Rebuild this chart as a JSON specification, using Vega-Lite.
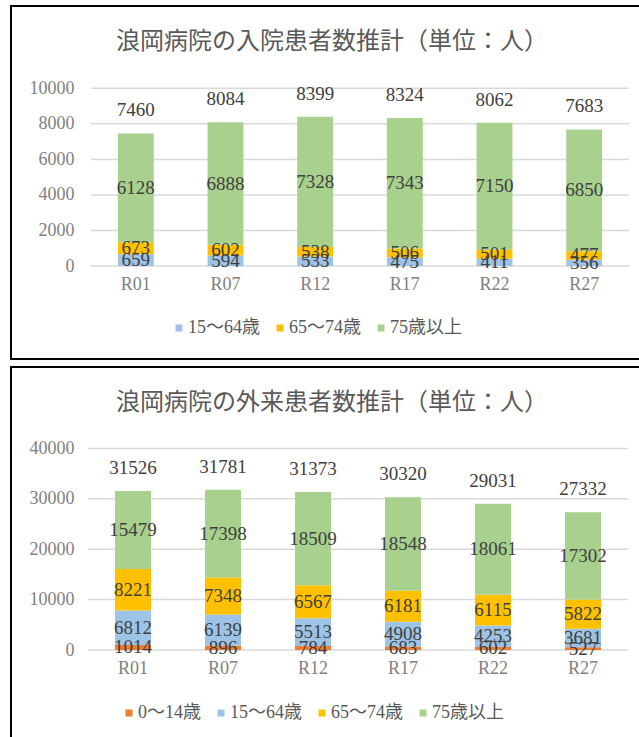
{
  "$schema": "https://vega.github.io/schema/vega-lite/v6.json",
  "padding": {"left": 10, "top": 5, "right": 0, "bottom": 0},
  "autosize": {"type": "pad"},
  "background": "#ffffff",
  "spacing": 6,
  "config": {
    "font": "'Liberation Serif', 'Noto Sans CJK JP'",
    "text": {"font": "'Liberation Serif', 'Noto Sans CJK JP'"},
    "view": {"stroke": "#000000", "strokeWidth": 2},
    "title": {"fontSize": 24, "fontWeight": "normal", "color": "#595959", "offset": -48, "baseline": "middle", "anchor": "middle", "frame": "group", "font": "'Liberation Serif', 'Noto Sans CJK JP'"},
    "axisX": {"offset": -93, "domain": false, "ticks": false, "grid": false, "labelFont": "'Liberation Serif', 'Noto Sans CJK JP'", "labelFontSize": 18, "labelColor": "#7f7f7f", "labelPadding": 18, "labelBaseline": "middle", "labelAngle": 0, "title": null},
    "axisY": {"offset": -65, "domain": false, "ticks": false, "grid": false, "labelFont": "'Liberation Serif', 'Noto Sans CJK JP'", "labelFontSize": 18, "labelColor": "#7f7f7f", "labelPadding": 2, "title": null, "format": "d"},
    "legend": {"orient": "none", "direction": "horizontal", "symbolType": "square", "symbolSize": 49, "labelFont": "'Liberation Serif', 'Noto Sans CJK JP'", "labelFontSize": 18, "labelColor": "#595959", "columnPadding": 11, "labelOffset": 0, "padding": 0, "title": null}
  },
  "datasets": {
    "inpatient": [
      {"period": "R01", "age": "15～64歳", "value": 659},
      {"period": "R01", "age": "65～74歳", "value": 673},
      {"period": "R01", "age": "75歳以上", "value": 6128},
      {"period": "R07", "age": "15～64歳", "value": 594},
      {"period": "R07", "age": "65～74歳", "value": 602},
      {"period": "R07", "age": "75歳以上", "value": 6888},
      {"period": "R12", "age": "15～64歳", "value": 533},
      {"period": "R12", "age": "65～74歳", "value": 538},
      {"period": "R12", "age": "75歳以上", "value": 7328},
      {"period": "R17", "age": "15～64歳", "value": 475},
      {"period": "R17", "age": "65～74歳", "value": 506},
      {"period": "R17", "age": "75歳以上", "value": 7343},
      {"period": "R22", "age": "15～64歳", "value": 411},
      {"period": "R22", "age": "65～74歳", "value": 501},
      {"period": "R22", "age": "75歳以上", "value": 7150},
      {"period": "R27", "age": "15～64歳", "value": 356},
      {"period": "R27", "age": "65～74歳", "value": 477},
      {"period": "R27", "age": "75歳以上", "value": 6850}
    ],
    "outpatient": [
      {"period": "R01", "age": "0～14歳", "value": 1014},
      {"period": "R01", "age": "15～64歳", "value": 6812},
      {"period": "R01", "age": "65～74歳", "value": 8221},
      {"period": "R01", "age": "75歳以上", "value": 15479},
      {"period": "R07", "age": "0～14歳", "value": 896},
      {"period": "R07", "age": "15～64歳", "value": 6139},
      {"period": "R07", "age": "65～74歳", "value": 7348},
      {"period": "R07", "age": "75歳以上", "value": 17398},
      {"period": "R12", "age": "0～14歳", "value": 784},
      {"period": "R12", "age": "15～64歳", "value": 5513},
      {"period": "R12", "age": "65～74歳", "value": 6567},
      {"period": "R12", "age": "75歳以上", "value": 18509},
      {"period": "R17", "age": "0～14歳", "value": 683},
      {"period": "R17", "age": "15～64歳", "value": 4908},
      {"period": "R17", "age": "65～74歳", "value": 6181},
      {"period": "R17", "age": "75歳以上", "value": 18548},
      {"period": "R22", "age": "0～14歳", "value": 602},
      {"period": "R22", "age": "15～64歳", "value": 4253},
      {"period": "R22", "age": "65～74歳", "value": 6115},
      {"period": "R22", "age": "75歳以上", "value": 18061},
      {"period": "R27", "age": "0～14歳", "value": 527},
      {"period": "R27", "age": "15～64歳", "value": 3681},
      {"period": "R27", "age": "65～74歳", "value": 5822},
      {"period": "R27", "age": "75歳以上", "value": 17302}
    ],
    "gridIn": [{"g": 0}, {"g": 2000}, {"g": 4000}, {"g": 6000}, {"g": 8000}, {"g": 10000}],
    "gridOut": [{"g": 0}, {"g": 10000}, {"g": 20000}, {"g": 30000}, {"g": 40000}]
  },
  "resolve": {"scale": {"color": "independent"}, "legend": {"color": "independent"}},
  "vconcat": [
    {
      "width": 642,
      "height": 353,
      "title": "浪岡病院の入院患者数推計（単位：人）",
      "resolve": {"scale": {"x": "independent"}},
      "layer": [
        {
          "data": {"name": "gridIn"},
          "mark": {"type": "rule", "color": "#d9d9d9", "strokeWidth": 1.5},
          "encoding": {
            "x": {"datum": 0, "type": "quantitative", "scale": {"domain": [0, 1], "range": [80, 618]}, "axis": null},
            "x2": {"datum": 1},
            "y": {"field": "g", "type": "quantitative", "scale": {"domain": [0, 10000], "range": [260, 82.3], "nice": false, "zero": false}, "axis": {"values": [0, 2000, 4000, 6000, 8000, 10000]}}
          }
        },
        {
          "data": {"name": "inpatient"},
          "transform": [{"stack": "value", "groupby": ["period"], "sort": [{"field": "age", "order": "ascending"}], "as": ["y0", "y1"]}],
          "mark": {"type": "bar"},
          "encoding": {
            "x": {"field": "period", "type": "nominal", "sort": null, "scale": {"type": "band", "range": [80, 618], "paddingInner": 0.6, "paddingOuter": 0.3}},
            "y": {"field": "y0", "type": "quantitative", "scale": {"domain": [0, 10000], "range": [260, 82.3], "nice": false, "zero": false}},
            "y2": {"field": "y1"},
            "color": {"field": "age", "type": "nominal", "scale": {"domain": ["15～64歳", "65～74歳", "75歳以上"], "range": ["#9dc3e6", "#ffc000", "#a9d18e"]}, "legend": {"legendX": 159, "legendY": 313}}
          }
        },
        {
          "data": {"name": "inpatient"},
          "transform": [
            {"stack": "value", "groupby": ["period"], "sort": [{"field": "age", "order": "ascending"}], "as": ["y0", "y1"]},
            {"calculate": "(datum.y0 + datum.y1) / 2", "as": "ymid"}
          ],
          "mark": {"type": "text", "fontSize": 19, "color": "#404040", "baseline": "middle", "font": "'Liberation Serif', 'Noto Sans CJK JP'"},
          "encoding": {
            "x": {"field": "period", "type": "nominal", "sort": null, "scale": {"type": "band", "range": [80, 618], "paddingInner": 0.6, "paddingOuter": 0.3}, "axis": null},
            "y": {"field": "ymid", "type": "quantitative", "scale": {"domain": [0, 10000], "range": [260, 82.3], "nice": false, "zero": false}},
            "text": {"field": "value", "type": "quantitative", "format": "d"}
          }
        },
        {
          "data": {"name": "inpatient"},
          "mark": {"type": "text", "fontSize": 19, "color": "#404040", "baseline": "middle", "dy": -23, "font": "'Liberation Serif', 'Noto Sans CJK JP'"},
          "encoding": {
            "x": {"field": "period", "type": "nominal", "sort": null, "scale": {"type": "band", "range": [80, 618], "paddingInner": 0.6, "paddingOuter": 0.3}, "axis": null},
            "y": {"aggregate": "sum", "field": "value", "type": "quantitative", "scale": {"domain": [0, 10000], "range": [260, 82.3], "nice": false, "zero": false}},
            "text": {"aggregate": "sum", "field": "value", "type": "quantitative", "format": "d"}
          }
        }
      ]
    },
    {
      "width": 642,
      "height": 376,
      "title": "浪岡病院の外来患者数推計（単位：人）",
      "resolve": {"scale": {"x": "independent"}},
      "layer": [
        {
          "data": {"name": "gridOut"},
          "mark": {"type": "rule", "color": "#d9d9d9", "strokeWidth": 1.5},
          "encoding": {
            "x": {"datum": 0, "type": "quantitative", "scale": {"domain": [0, 1], "range": [77, 617]}, "axis": null},
            "x2": {"datum": 1},
            "y": {"field": "g", "type": "quantitative", "scale": {"domain": [0, 40000], "range": [283, 81.4], "nice": false, "zero": false}, "axis": {"values": [0, 10000, 20000, 30000, 40000]}}
          }
        },
        {
          "data": {"name": "outpatient"},
          "transform": [{"stack": "value", "groupby": ["period"], "sort": [{"field": "age", "order": "ascending"}], "as": ["y0", "y1"]}],
          "mark": {"type": "bar"},
          "encoding": {
            "x": {"field": "period", "type": "nominal", "sort": null, "scale": {"type": "band", "range": [77, 617], "paddingInner": 0.6, "paddingOuter": 0.3}},
            "y": {"field": "y0", "type": "quantitative", "scale": {"domain": [0, 40000], "range": [283, 81.4], "nice": false, "zero": false}},
            "y2": {"field": "y1"},
            "color": {"field": "age", "type": "nominal", "scale": {"domain": ["0～14歳", "15～64歳", "65～74歳", "75歳以上"], "range": ["#ed7d31", "#9dc3e6", "#ffc000", "#a9d18e"]}, "legend": {"legendX": 109, "legendY": 337}}
          }
        },
        {
          "data": {"name": "outpatient"},
          "transform": [
            {"stack": "value", "groupby": ["period"], "sort": [{"field": "age", "order": "ascending"}], "as": ["y0", "y1"]},
            {"calculate": "(datum.y0 + datum.y1) / 2", "as": "ymid"}
          ],
          "mark": {"type": "text", "fontSize": 19, "color": "#404040", "baseline": "middle", "font": "'Liberation Serif', 'Noto Sans CJK JP'"},
          "encoding": {
            "x": {"field": "period", "type": "nominal", "sort": null, "scale": {"type": "band", "range": [77, 617], "paddingInner": 0.6, "paddingOuter": 0.3}, "axis": null},
            "y": {"field": "ymid", "type": "quantitative", "scale": {"domain": [0, 40000], "range": [283, 81.4], "nice": false, "zero": false}},
            "text": {"field": "value", "type": "quantitative", "format": "d"}
          }
        },
        {
          "data": {"name": "outpatient"},
          "mark": {"type": "text", "fontSize": 19, "color": "#404040", "baseline": "middle", "dy": -23, "font": "'Liberation Serif', 'Noto Sans CJK JP'"},
          "encoding": {
            "x": {"field": "period", "type": "nominal", "sort": null, "scale": {"type": "band", "range": [77, 617], "paddingInner": 0.6, "paddingOuter": 0.3}, "axis": null},
            "y": {"aggregate": "sum", "field": "value", "type": "quantitative", "scale": {"domain": [0, 40000], "range": [283, 81.4], "nice": false, "zero": false}},
            "text": {"aggregate": "sum", "field": "value", "type": "quantitative", "format": "d"}
          }
        }
      ]
    }
  ]
}
